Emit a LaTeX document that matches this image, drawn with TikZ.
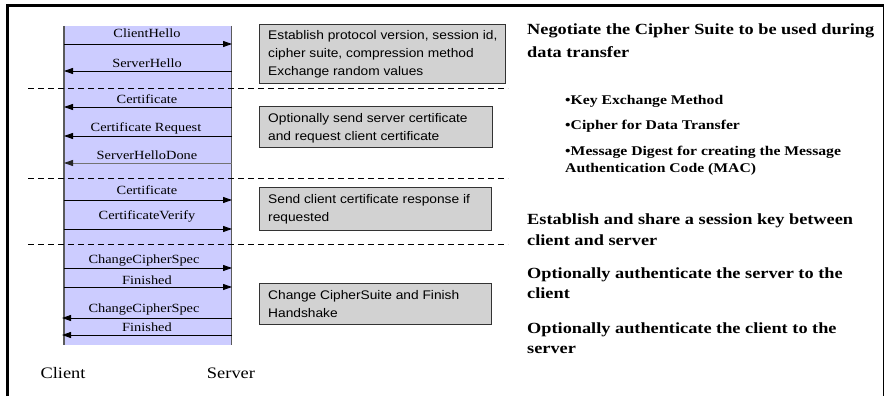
\documentclass[tikz,border=0pt]{standalone}
\usepackage{fontspec}
\setmainfont{Liberation Serif}
\newfontfamily\lblfont[FakeStretch=1.15]{Liberation Serif}
\newfontfamily\boxfont[FakeStretch=1.1]{Liberation Sans}
\newfontfamily\rfont[FakeStretch=1.18]{Liberation Serif}
\usetikzlibrary{arrows.meta}
\definecolor{lav}{RGB}{204,204,255}
\definecolor{boxgray}{RGB}{210,210,210}
\definecolor{lifeline}{RGB}{90,90,90}
\tikzset{
  msg/.style={line width=0.9pt, -{Triangle[length=9pt,width=6pt]}},
  faintmsg/.style={line width=0.9pt, draw=black!55, -{Triangle[length=9pt,width=6pt,color=black!85]}},
  lbl/.style={font=\lblfont\fontsize{12.5}{14}\selectfont, inner sep=0pt, anchor=base},
  gbox/.style={draw=black!80, fill=boxgray, line width=0.8pt, anchor=north west, inner sep=0pt},
  btext/.style={font=\boxfont\fontsize{12.5}{18}\selectfont, align=left, inner sep=0pt, anchor=west},
  rhead/.style={font=\rfont\bfseries\fontsize{15.5}{21}\selectfont, inner sep=0pt, anchor=base west},
  rbul/.style={font=\rfont\bfseries\fontsize{13.3}{17}\selectfont, inner sep=0pt, anchor=base west},
  sep/.style={dashed, dash pattern=on 6pt off 4pt, line width=0.9pt},
  ends/.style={font=\lblfont\fontsize{16}{18}\selectfont, inner sep=0pt, anchor=base}
}
\begin{document}
\begin{tikzpicture}[x=1pt,y=-1pt]
\useasboundingbox (0,0) rectangle (885,396);
% frame
\draw[line width=3pt] (7.5,396) -- (7.5,6) -- (884,6);
\draw[line width=1pt] (883,6) -- (883,396);
% column
\node[fill=lav, draw=none, anchor=north west, inner sep=0pt, minimum width=167pt, minimum height=319pt] (col) at (64,26) {};
\draw[lifeline, line width=1.5pt] (col.north west) -- (col.south west);
\draw[lifeline, line width=1.5pt] (col.north east) -- (col.south east);
% separators
\coordinate (d1a) at (28,88);  \coordinate (d1b) at (508,88);
\coordinate (d2a) at (28,178); \coordinate (d2b) at (508,178);
\coordinate (d3a) at (28,244); \coordinate (d3b) at (508,244);
\draw[sep] (d1a) -- (d1b);
\draw[sep] (d2a) -- (d2b);
\draw[sep] (d3a) -- (d3b);
% message coordinates
\foreach \i/\y in {1/44,2/71,3/107,4/136,5/163,6/200,7/229,8/268,9/287,10/318,11/335}{
  \coordinate (c\i) at (64,\y);
  \coordinate (s\i) at (232,\y);
}
\coordinate (c10x) at (62,318);
\coordinate (c11x) at (62,335);
% messages
\draw[msg] (c1) -- (s1);
\draw[msg] (s2) -- (c2);
\draw[msg] (s3) -- (c3);
\draw[msg] (s4) -- (c4);
\draw[faintmsg] (s5) -- (c5);
\draw[msg] (c6) -- (s6);
\draw[msg] (c7) -- (s7);
\draw[msg] (c8) -- (s8);
\draw[msg] (c9) -- (s9);
\draw[msg] (s10) -- (c10x);
\draw[msg] (s11) -- (c11x);
% labels
\node[lbl] (l1) at (147,37.5) {ClientHello};
\node[lbl] (l2) at (147,67) {ServerHello};
\node[lbl] (l3) at (147,103) {Certificate};
\node[lbl] (l4) at (146,131) {Certificate Request};
\node[lbl] (l5) at (147,159) {ServerHelloDone};
\node[lbl] (l6) at (147,194) {Certificate};
\node[lbl] (l7) at (147,219) {CertificateVerify};
\node[lbl] (l8) at (144,263) {ChangeCipherSpec};
\node[lbl] (l9) at (147,284) {Finished};
\node[lbl] (l10) at (144,312) {ChangeCipherSpec};
\node[lbl] (l11) at (147,331) {Finished};
% ends
\node[ends] (client) at (63,378) {Client};
\node[ends] (server) at (231,378) {Server};
% gray boxes
\node[gbox, minimum width=246pt, minimum height=59pt] (b1) at (259,24) {};
\node[btext] (t1) at ([xshift=9pt]b1.west) {Establish protocol version, session id,\\cipher suite, compression method\\Exchange random values};
\node[gbox, minimum width=233pt, minimum height=41pt] (b2) at (259,106) {};
\node[btext] (t2) at ([xshift=9pt,yshift=-1.5pt]b2.west) {Optionally send server certificate\\and request client certificate};
\node[gbox, minimum width=232pt, minimum height=43pt] (b3) at (259,187) {};
\node[btext] (t3) at ([xshift=9pt]b3.west) {Send client certificate response if\\requested};
\node[gbox, minimum width=232pt, minimum height=41pt] (b4) at (259,283) {};
\node[btext] (t4) at ([xshift=9pt]b4.west) {Change CipherSuite and Finish\\Handshake};
% right text
\node[rhead] (r1) at (527,35) {Negotiate the Cipher Suite to be used during};
\node[rhead] (r2) at (527,57) {data transfer};
\node[rbul] (r3) at (565,104) {•Key Exchange Method};
\node[rbul] (r4) at (565,129) {•Cipher for Data Transfer};
\node[rbul] (r5) at (565,155) {•Message Digest for creating the Message};
\node[rbul] (r6) at (565,172) {Authentication Code (MAC)};
\node[rhead] (r7) at (527,224) {Establish and share a session key between};
\node[rhead] (r8) at (527,245) {client and server};
\node[rhead] (r9) at (527,278) {Optionally authenticate the server to the};
\node[rhead] (r10) at (527,298) {client};
\node[rhead] (r11) at (527,333) {Optionally authenticate the client to the};
\node[rhead] (r12) at (527,353) {server};
\end{tikzpicture}
\end{document}
